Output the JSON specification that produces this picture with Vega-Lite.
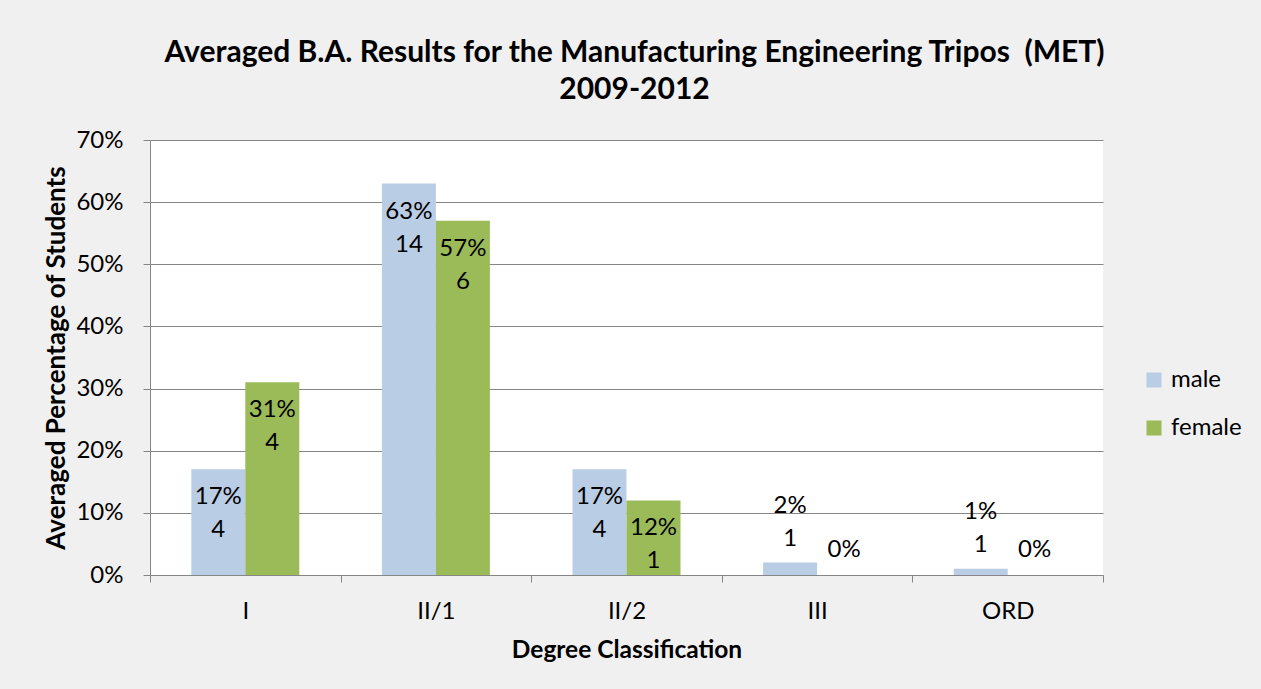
{
  "$schema": "https://vega.github.io/schema/vega-lite/v6.json",
  "width": 953,
  "height": 435,
  "autosize": {"type": "none"},
  "padding": {"left": 150, "top": 140, "right": 158, "bottom": 114},
  "background": "#F0F0F0",
  "config": {
    "view": {"fill": "white", "stroke": null},
    "font": "Lato",
    "axis": {"labelFont": "Lato", "titleFont": "Lato", "labelColor": "#000000", "titleColor": "#000000"}
  },
  "title": {
    "text": ["Averaged B.A. Results for the Manufacturing Engineering Tripos\u00a0\u00a0(MET)", "2009-2012"],
    "fontSize": 30,
    "fontWeight": "bold",
    "font": "Lato",
    "color": "#000000",
    "lineHeight": 37,
    "anchor": "middle",
    "offset": 23,
    "dx": 8
  },
  "data": {
    "values": [
      {"cls": "I", "gender": "male", "pct": 0.17, "n": 4},
      {"cls": "I", "gender": "female", "pct": 0.31, "n": 4},
      {"cls": "II/1", "gender": "male", "pct": 0.63, "n": 14},
      {"cls": "II/1", "gender": "female", "pct": 0.57, "n": 6},
      {"cls": "II/2", "gender": "male", "pct": 0.17, "n": 4},
      {"cls": "II/2", "gender": "female", "pct": 0.12, "n": 1},
      {"cls": "III", "gender": "male", "pct": 0.02, "n": 1},
      {"cls": "III", "gender": "female", "pct": 0.0, "n": null},
      {"cls": "ORD", "gender": "male", "pct": 0.01, "n": 1},
      {"cls": "ORD", "gender": "female", "pct": 0.0, "n": null}
    ]
  },
  "transform": [
    {"calculate": "datum.n == null ? format(datum.pct, '.0%') : format(datum.pct, '.0%') + '\\n' + datum.n", "as": "label"}
  ],
  "encoding": {
    "x": {
      "field": "cls",
      "type": "nominal",
      "sort": ["I", "II/1", "II/2", "III", "ORD"],
      "scale": {"paddingInner": 0, "paddingOuter": 0},
      "axis": {
        "title": "Degree Classification",
        "titleFontSize": 24.5,
        "titleFontWeight": "bold",
        "titlePadding": 15,
        "labelFontSize": 24,
        "labelAngle": 0,
        "labelPadding": 17,
        "tickBand": "extent",
        "tickSize": 7,
        "tickColor": "#868686",
        "domainColor": "#868686",
        "grid": false
      }
    },
    "xOffset": {"field": "gender", "type": "nominal", "sort": ["male", "female"], "scale": {"paddingInner": 0, "paddingOuter": 0.765}},
    "y": {
      "field": "pct",
      "type": "quantitative",
      "scale": {"domain": [0, 0.7], "nice": false},
      "axis": {
        "title": "Averaged Percentage of Students",
        "titleFontSize": 26,
        "titleFontWeight": "bold",
        "titlePadding": 6,
        "labelFontSize": 24,
        "labelPadding": 20,
        "values": [0, 0.1, 0.2, 0.3, 0.4, 0.5, 0.6, 0.7],
        "format": ".0%",
        "tickSize": 7,
        "tickColor": "#868686",
        "domainColor": "#868686",
        "gridColor": "#868686",
        "gridWidth": 1
      }
    }
  },
  "layer": [
    {
      "mark": {"type": "bar"},
      "encoding": {
        "color": {
          "field": "gender",
          "type": "nominal",
          "scale": {"domain": ["male", "female"], "range": ["#B9CDE5", "#9BBB59"]},
          "legend": {
            "title": null,
            "orient": "none",
            "legendX": 992,
            "legendY": 228,
            "symbolType": "square",
            "symbolSize": 225,
            "symbolStrokeWidth": 0,
            "labelFontSize": 24,
            "labelFont": "Lato",
            "labelColor": "#000000",
            "labelOffset": 5,
            "rowPadding": 24
          }
        }
      }
    },
    {
      "transform": [{"filter": "datum.pct >= 0.05"}],
      "mark": {"type": "text", "baseline": "top", "dy": 16, "fontSize": 24, "lineHeight": 33, "lineBreak": "\n", "color": "#000000", "font": "Lato"},
      "encoding": {"text": {"field": "label", "type": "nominal"}}
    },
    {
      "transform": [{"filter": "datum.pct < 0.05 && datum.n != null"}],
      "mark": {"type": "text", "baseline": "bottom", "dy": -45, "fontSize": 24, "lineHeight": 33, "lineBreak": "\n", "color": "#000000", "font": "Lato"},
      "encoding": {"text": {"field": "label", "type": "nominal"}}
    },
    {
      "transform": [{"filter": "datum.n == null"}],
      "mark": {"type": "text", "baseline": "bottom", "dy": -13, "fontSize": 24, "lineHeight": 33, "lineBreak": "\n", "color": "#000000", "font": "Lato"},
      "encoding": {"text": {"field": "label", "type": "nominal"}}
    }
  ]
}
